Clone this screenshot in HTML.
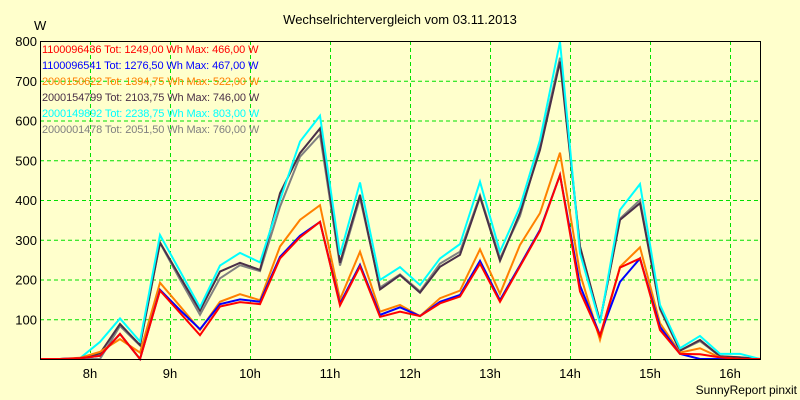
<!DOCTYPE html>
<html><head><meta charset="utf-8"><style>
body{margin:0;background:#ffffcc;}
svg{display:block;font-family:"Liberation Sans",sans-serif;}
</style></head><body>
<svg id="chart" width="800" height="400">
<rect x="0" y="0" width="800" height="400" fill="#ffffcc"/>
<text x="400" y="24" font-size="13" text-anchor="middle">Wechselrichtervergleich vom 03.11.2013</text>
<text x="34" y="30" font-size="13">W</text>
<text x="797" y="394" font-size="12" text-anchor="end">SunnyReport pinxit</text>
<g id="grid"></g><g id="series"></g><g id="axes"></g><g id="legend"></g>
</svg>
<script>
const yTicks = [100,200,300,400,500,600,700,800];
const xTickLabels = ["8h","9h","10h","11h","12h","13h","14h","15h","16h"];
const seriesNames = ["1100096436 Tot: 1249,00 Wh Max: 466,00 W","1100096541 Tot: 1276,50 Wh Max: 467,00 W","2000150622 Tot: 1394,75 Wh Max: 522,00 W","2000154799 Tot: 2103,75 Wh Max: 746,00 W","2000149892 Tot: 2238,75 Wh Max: 803,00 W","2000001478 Tot: 2051,50 Wh Max: 760,00 W"];
const seriesColors = ["#ff0000","#0000ff","#ff8000","#4a3048","#00ffff","#808080"];
const red    = [0,0,2,8,63,0,172,116,60,132,143,138,253,306,345,135,233,106,119,108,140,157,240,144,233,322,463,170,58,230,253,73,13,12,4,0,0];
const blue   = [0,0,2,8,63,0,174,123,75,138,150,144,257,310,345,139,237,111,130,108,144,161,247,148,236,325,463,185,60,194,253,81,13,0,0,0,0];
const orange = [0,0,3,18,50,16,192,133,73,144,163,148,283,350,387,150,270,119,136,108,153,172,276,164,287,367,519,215,48,232,281,90,16,27,4,0,0];
const darkgray=[0,0,2,14,88,35,293,207,122,220,242,224,417,518,580,242,413,175,211,167,232,262,408,247,368,526,748,283,94,350,392,128,21,48,7,4,0];
const cyan   = [0,0,2,43,102,44,312,221,130,235,267,243,400,547,612,262,444,199,231,186,253,289,446,270,383,551,798,266,90,375,440,136,27,58,13,13,0];
const gray   = [0,0,0,0,83,34,292,200,111,203,236,221,383,509,564,235,405,180,213,170,240,270,412,253,360,534,758,283,94,353,400,125,21,45,7,4,0];
const allSeries = [red,blue,orange,darkgray,cyan,gray];
const drawOrder = [5,3,4,2,1,0];
const X0=40,X1=760,Y0=359,Y1=41,VMAX=800;
const xIdx=i=>X0+(X1-X0)*i/(red.length-1);
const yVal=v=>Y0-(Y0-Y1)*v/VMAX;
const xHour=k=>90+80*k;
const NS="http://www.w3.org/2000/svg";
function mk(tag,parent,attrs){const e=document.createElementNS(NS,tag);for(const k in attrs)e.setAttribute(k,attrs[k]);parent.appendChild(e);return e;}
const grid=document.getElementById('grid'),axes=document.getElementById('axes'),ser=document.getElementById('series'),leg=document.getElementById('legend');
yTicks.forEach(v=>{
  const l=mk('line',grid,{x1:X0,x2:X1,y1:yVal(v)+0.5,y2:yVal(v)+0.5,stroke:'#00e000','stroke-dasharray':'4,3'});
  
  
  const t=mk('text',axes,{x:37,y:yVal(v)+5,'font-size':'13','text-anchor':'end'});
  t.textContent=v;
  
  
});
xTickLabels.forEach((s,k)=>{
  const l=mk('line',grid,{x1:xHour(k)+0.5,x2:xHour(k)+0.5,y1:Y1,y2:Y0,stroke:'#00e000','stroke-dasharray':'4,3'});
  
  
  const t=mk('text',axes,{x:xHour(k),y:378,'font-size':'13','text-anchor':'middle'});
  t.textContent=s;
  
  
});
const frame=mk('path',axes,{d:`M${X0+.5},${Y1} V${Y0+.5} H${X1+.5} V${Y1+.5} H${X0}`,fill:'none',stroke:'#000'});


drawOrder.forEach(s=>{
  const pts=allSeries[s].map((v,i)=>xIdx(i)+','+yVal(v)).join(' ');
  const p=mk('polyline',ser,{points:pts,fill:'none',stroke:seriesColors[s],'stroke-width':'2','stroke-linejoin':'miter'});
  
  
});
seriesNames.forEach((n,s)=>{
  const t=mk('text',leg,{x:42,y:53+16*s,'font-size':'11','letter-spacing':'-0.1',fill:seriesColors[s]});
  t.textContent=n;
  
  
});
</script>
</body></html>
